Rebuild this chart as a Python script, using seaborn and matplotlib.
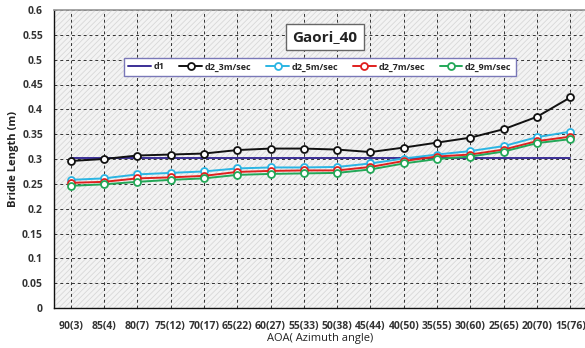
import matplotlib
matplotlib.use("Agg")
import matplotlib.pyplot as plt
import matplotlib.patches as mpatches
import seaborn as sns
import pandas as pd

categories = ["90(3)", "85(4)", "80(7)", "75(12)", "70(17)", "65(22)", "60(27)", "55(33)",
              "50(38)", "45(44)", "40(50)", "35(55)", "30(60)", "25(65)", "20(70)", "15(76)"]
d1 = [0.303] * 16
d2_3 = [0.296, 0.300, 0.307, 0.309, 0.311, 0.318, 0.321, 0.321,
        0.319, 0.314, 0.323, 0.333, 0.343, 0.360, 0.385, 0.424]
d2_5 = [0.258, 0.261, 0.269, 0.272, 0.275, 0.281, 0.283, 0.283,
        0.284, 0.291, 0.301, 0.309, 0.316, 0.326, 0.344, 0.355]
d2_7 = [0.252, 0.254, 0.261, 0.263, 0.266, 0.274, 0.276, 0.277,
        0.277, 0.284, 0.296, 0.305, 0.309, 0.319, 0.336, 0.345]
d2_9 = [0.246, 0.249, 0.254, 0.258, 0.261, 0.268, 0.270, 0.271,
        0.272, 0.279, 0.291, 0.300, 0.305, 0.315, 0.332, 0.340]
y_ticks = [0, 0.05, 0.1, 0.15, 0.2, 0.25, 0.3, 0.35, 0.4, 0.45, 0.5, 0.55, 0.6]
y_tick_labels = ["0", "0.05", "0.1", "0.15", "0.2", "0.25", "0.3", "0.35",
                 "0.4", "0.45", "0.5", "0.55", "0.6"]

series = {
    "d1": d1,
    "d2_3m/sec": d2_3,
    "d2_5m/sec": d2_5,
    "d2_7m/sec": d2_7,
    "d2_9m/sec": d2_9,
}
colors = {
    "d1": "#3b2f96",
    "d2_3m/sec": "#111111",
    "d2_5m/sec": "#2bb5e3",
    "d2_7m/sec": "#e0201e",
    "d2_9m/sec": "#23a858",
}

sns.set_theme(style="white")
plt.rcParams["font.family"] = ["Open Sans", "DejaVu Sans"]
plt.rcParams["hatch.linewidth"] = 0.6
plt.rcParams["hatch.color"] = "#d6d6d6"

fig = plt.figure(figsize=(5.85, 3.48), dpi=100)
ax = fig.add_axes([54 / 585, 1 - 308 / 348, 533 / 585, 298 / 348])

# hatched plot-area background
ax.set_facecolor("#f3f3f3")
ax.add_patch(mpatches.Rectangle((0, 0), 1, 1, transform=ax.transAxes, facecolor="none",
                                edgecolor="#d8d8d8", hatch="//////", linewidth=0, zorder=0))

pos = list(range(len(categories)))
for name, vals in series.items():
    df = pd.DataFrame({"pos": pos, "value": vals})
    kw = dict(marker="o", markersize=5, markerfacecolor="white",
              markeredgecolor=colors[name], markeredgewidth=1.3) if name != "d1" else {}
    sns.lineplot(data=df, x="pos", y="value", ax=ax, color=colors[name], linewidth=1.4,
                 label=name, zorder=3, **kw)

ax.set_xlim(-0.5, len(categories) - 0.5)
ax.set_ylim(0, 0.6)
ax.set_xticks(pos)
ax.set_xticklabels(categories, fontsize=7.5, color="#333333", fontweight="bold")
ax.set_yticks(y_ticks)
ax.set_yticklabels(y_tick_labels, fontsize=7.5, color="#333333", fontweight="bold")
ax.tick_params(axis="both", length=2, width=0.6, color="#555555", pad=6)
ax.tick_params(axis="x", pad=7)

ax.grid(True, color="#333333", linestyle=(0, (3, 3)), linewidth=0.7)
ax.set_axisbelow(True)

for side in ["left", "bottom"]:
    ax.spines[side].set_color("#111111")
    ax.spines[side].set_linewidth(1.0)
ax.spines["top"].set_color("#999999")
ax.spines["right"].set_color("#999999")

ax.set_ylabel("Bridle Length (m)", fontsize=8, fontweight="bold", color="#222222", labelpad=2)
ax.set_xlabel("AOA( Azimuth angle)", fontsize=8, color="#222222", labelpad=1)

ax.text(325 / 585, 1 - 37 / 348, "Gaori_40", transform=fig.transFigure, ha="center",
        va="center", fontsize=11, fontweight="bold", color="#222222",
        bbox=dict(boxstyle="square,pad=0.4", facecolor="white", edgecolor="#666666",
                  linewidth=1.0))

leg = ax.legend(loc="center", bbox_to_anchor=(320 / 585, 1 - 67 / 348),
                bbox_transform=fig.transFigure, ncol=5, frameon=True,
                fancybox=False, handlelength=2.5, handletextpad=0.3, columnspacing=1.65,
                borderpad=0.45, prop={"weight": "bold", "size": 6.5})
leg.get_frame().set_edgecolor("#7a78b8")
leg.get_frame().set_linewidth(1.0)
leg.get_frame().set_facecolor("white")
leg.get_frame().set_alpha(1.0)

fig.savefig("out.png", dpi=100)
